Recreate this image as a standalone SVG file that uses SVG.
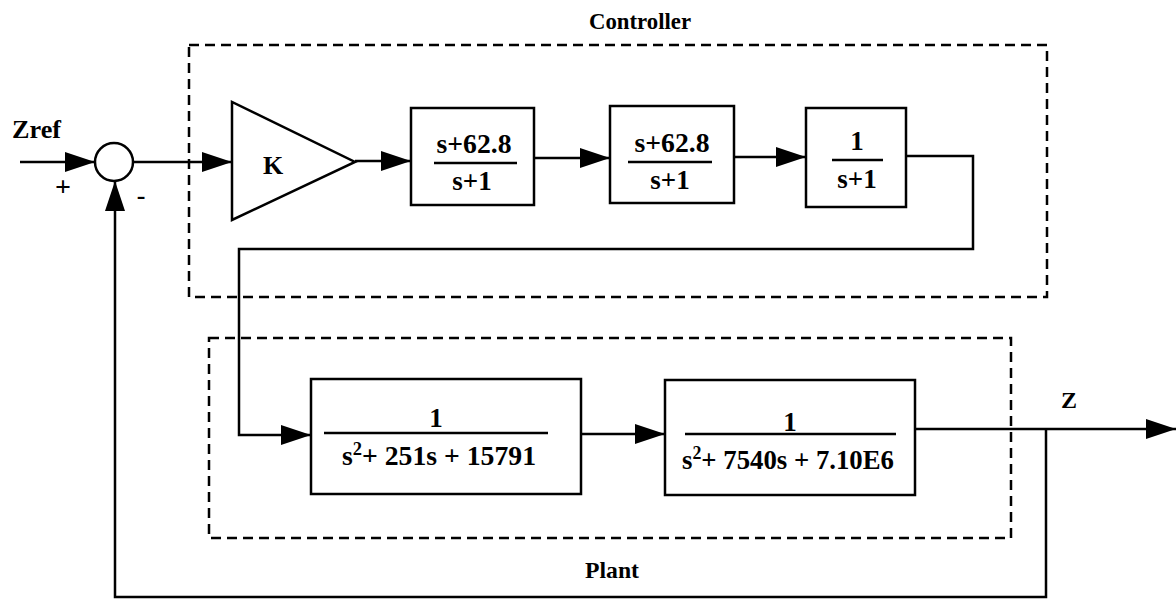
<svg xmlns="http://www.w3.org/2000/svg" width="1176" height="599" viewBox="0 0 1176 599">
<style>
  .t{font-family:"Liberation Serif","Times New Roman",serif;font-weight:bold;fill:#000}
  .blk{fill:#fff;stroke:#000;stroke-width:2.5}
  .dash{fill:none;stroke:#000;stroke-width:2.5;stroke-dasharray:10 6}
  .frac{stroke:#000;stroke-width:2.5}
  .wire{fill:none;stroke:#000;stroke-width:2.5}
</style>
<defs>
  <marker id="arr" markerUnits="userSpaceOnUse" markerWidth="30" markerHeight="20" refX="30" refY="10" orient="auto">
    <path d="M0,0 L30,10 L0,20 Z" fill="#000"/>
  </marker>
</defs>
<rect width="1176" height="599" fill="#fff"/>

<g id="controller-group">
  <rect class="dash" x="189" y="45" width="858" height="252"/>
  <text class="t" x="640" y="29" font-size="24" text-anchor="middle" textLength="102" lengthAdjust="spacingAndGlyphs">Controller</text>
</g>
<g id="plant-group">
  <rect class="dash" x="209" y="338" width="802" height="200"/>
  <text class="t" x="612" y="578" font-size="24" text-anchor="middle" textLength="54" lengthAdjust="spacingAndGlyphs">Plant</text>
</g>

<g id="connectors">
  <path class="wire" d="M20,162 H95" marker-end="url(#arr)"/>
  <path class="wire" d="M133,162 H232" marker-end="url(#arr)"/>
  <path class="wire" d="M355,161 H411" marker-end="url(#arr)"/>
  <path class="wire" d="M534,158 H610" marker-end="url(#arr)"/>
  <path class="wire" d="M734,157 H806" marker-end="url(#arr)"/>
  <path class="wire" d="M906,156 H973 V249 H239 V435 H311" marker-end="url(#arr)"/>
  <path class="wire" d="M581,434 H665" marker-end="url(#arr)"/>
  <path class="wire" d="M915,429 H1176" marker-end="url(#arr)"/>
  <path class="wire" d="M1046,429 V597 H115 V181" marker-end="url(#arr)"/>
</g>

<g id="zref-label">
  <text class="t" x="12" y="138" font-size="25" textLength="49" lengthAdjust="spacingAndGlyphs">Zref</text>
  <text class="t" x="63" y="196" font-size="28" text-anchor="middle">+</text>
  <text class="t" x="141" y="204" font-size="26" text-anchor="middle">-</text>
</g>

<g id="sum">
  <circle cx="114" cy="162" r="19" fill="#fff" stroke="#000" stroke-width="2.5"/>
</g>

<g id="gain-K">
  <path class="blk" d="M232,102 L232,220 L355,162 Z"/>
  <text class="t" x="263" y="174" font-size="26">K</text>
</g>

<g id="block1">
  <rect class="blk" x="411" y="108" width="123" height="97"/>
  <text class="t" x="474" y="153" font-size="27" text-anchor="middle" textLength="75" lengthAdjust="spacingAndGlyphs">s+62.8</text>
  <line class="frac" x1="434" y1="163" x2="517" y2="163"/>
  <text class="t" x="472" y="190" font-size="27" text-anchor="middle">s+1</text>
</g>

<g id="block2">
  <rect class="blk" x="610" y="106" width="124" height="97"/>
  <text class="t" x="672" y="152" font-size="27" text-anchor="middle" textLength="75" lengthAdjust="spacingAndGlyphs">s+62.8</text>
  <line class="frac" x1="628" y1="162" x2="712" y2="162"/>
  <text class="t" x="670" y="189" font-size="27" text-anchor="middle">s+1</text>
</g>

<g id="block3">
  <rect class="blk" x="806" y="108" width="100" height="99"/>
  <text class="t" x="857" y="150" font-size="27" text-anchor="middle">1</text>
  <line class="frac" x1="832" y1="160" x2="883" y2="160"/>
  <text class="t" x="857" y="188" font-size="27" text-anchor="middle">s+1</text>
</g>

<g id="plant1">
  <rect class="blk" x="311" y="379" width="270" height="115"/>
  <text class="t" x="436" y="427" font-size="27" text-anchor="middle">1</text>
  <line class="frac" x1="324" y1="433" x2="548" y2="433"/>
  <text class="t" x="439" y="465" font-size="27" text-anchor="middle" textLength="194" lengthAdjust="spacingAndGlyphs">s<tspan font-size="18" dy="-10">2</tspan><tspan dy="10">+ 251s + 15791</tspan></text>
</g>

<g id="plant2">
  <rect class="blk" x="665" y="380" width="250" height="115"/>
  <text class="t" x="790" y="431" font-size="27" text-anchor="middle">1</text>
  <line class="frac" x1="685" y1="434" x2="896" y2="434"/>
  <text class="t" x="788" y="469" font-size="27" text-anchor="middle" textLength="212" lengthAdjust="spacingAndGlyphs">s<tspan font-size="18" dy="-10">2</tspan><tspan dy="10">+ 7540s + 7.10E6</tspan></text>
</g>

<g id="z-label">
  <text class="t" x="1069" y="408" font-size="24" text-anchor="middle">Z</text>
</g>
</svg>
